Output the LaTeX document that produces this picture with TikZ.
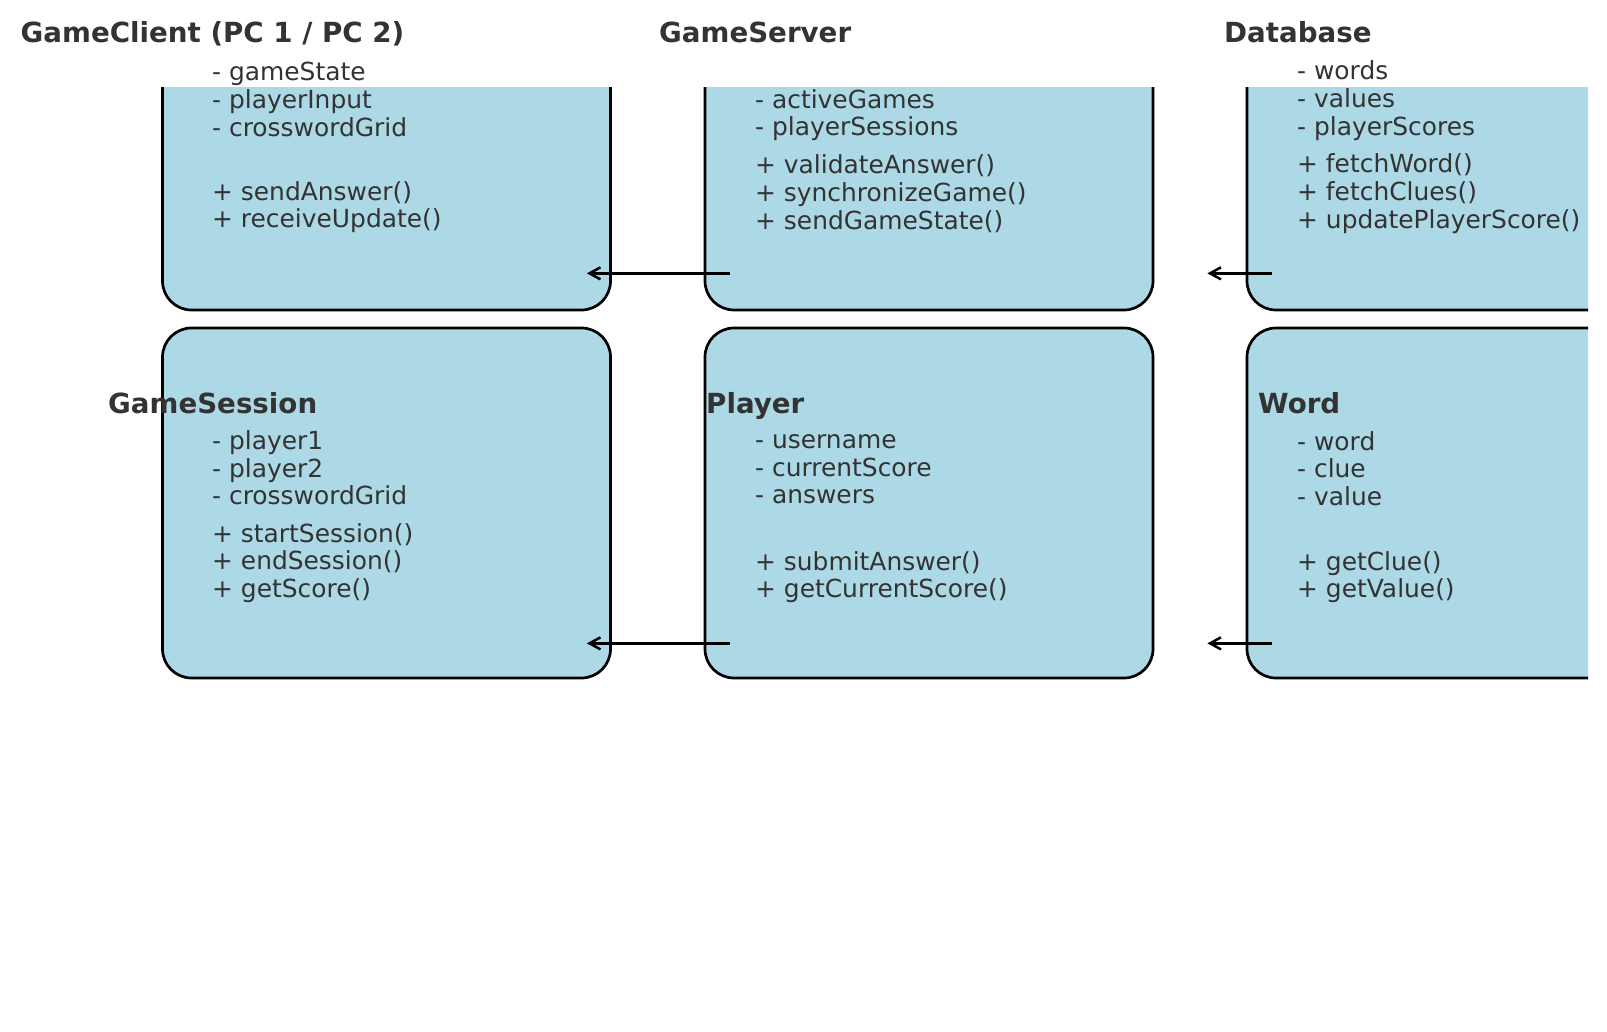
\documentclass[tikz,border=0pt]{standalone}
\usepackage{fontspec}
\setmainfont{DejaVu Sans}
\usetikzlibrary{arrows.meta}
\definecolor{boxblue}{RGB}{173,216,230}
\definecolor{inkgray}{RGB}{51,51,51}

\begin{document}
\begin{tikzpicture}[x=1pt,y=-1pt,
    classbox/.style={draw=black,fill=boxblue,line width=2.7pt,rounded corners=29pt,
      minimum width=448pt,minimum height=350pt,inner sep=0pt},
    classname/.style={anchor=base west,inner sep=0pt,text=inkgray,
      font=\fontsize{27.7}{33}\selectfont\bfseries},
    members/.style={anchor=west,inner sep=0pt,align=left,text=inkgray,
      font=\fontsize{24.9}{27.7}\selectfont},
    flow/.style={-{Straight Barb[length=11pt,width=12pt]},line width=2.5pt}]
  \useasboundingbox (0,0) rectangle (1607,1032);

  % the boxes are cut off at the top and on the right
  \begin{scope}
    \clip (0,88) rectangle (1588,1032);
    \node[classbox] (client) at (386.5,135) {};
    \node[classbox] (server) at (929,135) {};
    \node[classbox] (database) at (1471,135) {};
    \node[classbox] (session) at (386.5,503) {};
    \node[classbox] (player) at (929,503) {};
    \node[classbox] (word) at (1471,503) {};
  \end{scope}

  \coordinate (client-in) at ([xshift=-25pt,yshift=38pt]client.south east);
  \coordinate (server-out) at ([xshift=26pt,yshift=38pt]server.south west);
  \coordinate (server-in) at ([xshift=53pt,yshift=38pt]server.south east);
  \coordinate (database-out) at ([xshift=26pt,yshift=38pt]database.south west);
  \coordinate (session-in) at ([xshift=-25pt,yshift=36pt]session.south east);
  \coordinate (player-out) at ([xshift=26pt,yshift=36pt]player.south west);
  \coordinate (player-in) at ([xshift=53pt,yshift=36pt]player.south east);
  \coordinate (word-out) at ([xshift=26pt,yshift=36pt]word.south west);

  \draw[flow] (server-out) -- (client-in);
  \draw[flow] (database-out) -- (server-in);
  \draw[flow] (player-out) -- (session-in);
  \draw[flow] (word-out) -- (player-in);

  % top row
  \node[classname] (client-name) at (20.5,43) {GameClient (PC 1 / PC 2)};
  \node[members] (client-attr) at (212,99.5) {- gameState\\- playerInput\\- crosswordGrid};
  \node[members] (client-ops) at (212,207) {+ sendAnswer()\\+ receiveUpdate()};

  \node[classname] (server-name) at (659,43) {GameServer};
  \node[members] (server-attr) at (755,115) {- activeGames\\- playerSessions};
  \node[members] (server-ops) at (755,193.5) {+ validateAnswer()\\+ synchronizeGame()\\+ sendGameState()};

  \node[classname] (database-name) at (1224,43) {Database};
  \node[members] (database-attr) at (1297,100.5) {- words\\- values\\- playerScores};
  \node[members] (database-ops) at (1297,193.5) {+ fetchWord()\\+ fetchClues()\\+ updatePlayerScore()};

  % bottom row
  \node[classname] (session-name) at (108,413) {GameSession};
  \node[members] (session-attr) at (212,468) {- player1\\- player2\\- crosswordGrid};
  \node[members] (session-ops) at (212,563) {+ startSession()\\+ endSession()\\+ getScore()};

  \node[classname] (player-name) at (706,413) {Player};
  \node[members] (player-attr) at (755,469.5) {- username\\- currentScore\\- answers};
  \node[members] (player-ops) at (755,577) {+ submitAnswer()\\+ getCurrentScore()};

  \node[classname] (word-name) at (1258,413) {Word};
  \node[members] (word-attr) at (1297,468.5) {- word\\- clue\\- value};
  \node[members] (word-ops) at (1297,577) {+ getClue()\\+ getValue()};
\end{tikzpicture}
\end{document}
